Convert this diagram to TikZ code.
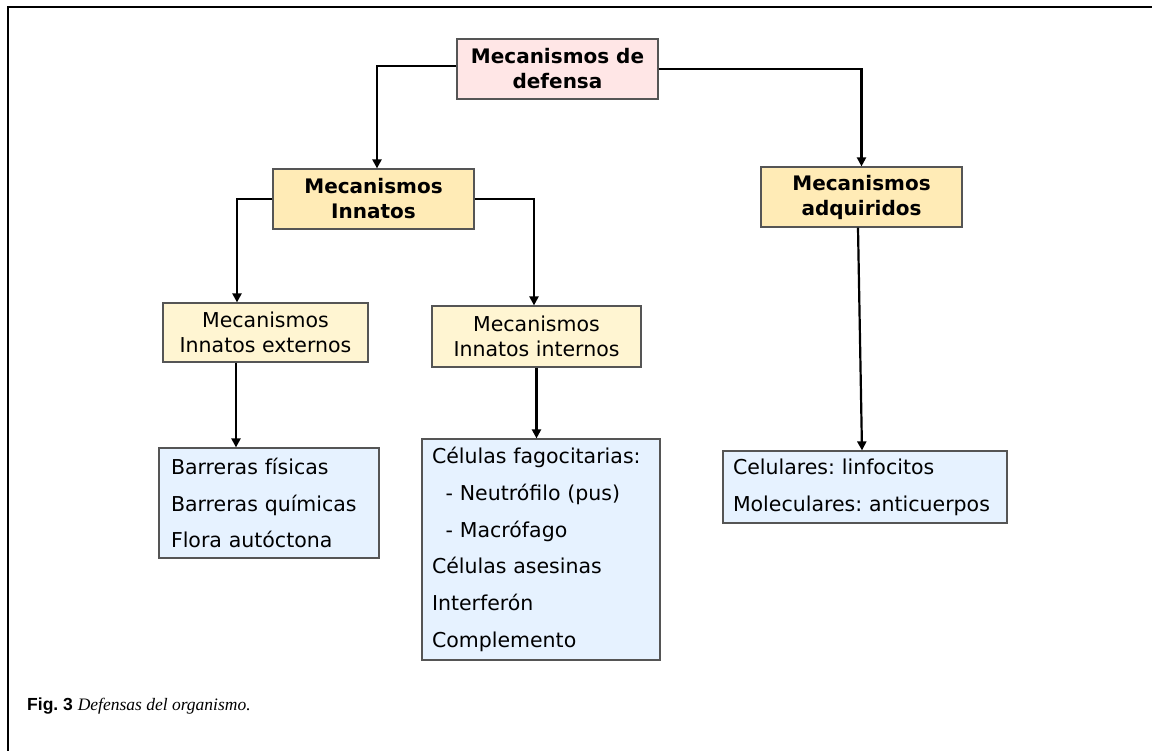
\documentclass[tikz,border=0pt]{standalone}
\usepackage{fontspec}
\setmainfont{DejaVu Sans}
\newfontfamily\capsans{Liberation Sans}
\newfontfamily\capserif{Liberation Serif}
\usetikzlibrary{arrows.meta}
\frenchspacing
\hyphenpenalty=10000
\definecolor{rootfill}{HTML}{FFE6E6}
\definecolor{mainfill}{HTML}{FFEBB6}
\definecolor{subfill}{HTML}{FFF5D2}
\definecolor{listfill}{HTML}{E6F2FF}
\definecolor{boxline}{HTML}{555555}
\tikzset{
  box/.style={draw=boxline, line width=1.2pt, inner sep=0pt, align=center},
  rootbox/.style={box, fill=rootfill, font=\fontsize{20}{25}\selectfont\bfseries},
  mainbox/.style={box, fill=mainfill, font=\fontsize{20}{25}\selectfont\bfseries},
  subbox/.style={box, fill=subfill, font=\fontsize{20.5}{25}\selectfont},
  listbox/.style={box, fill=listfill, align=left, font=\fontsize{20.5}{36.7}\selectfont},
  link/.style={line width=2.2pt, -{Triangle[length=9pt,width=9pt]}},
}
\begin{document}
\begin{tikzpicture}[x=1pt,y=-1pt]
\useasboundingbox (0,0) rectangle (1152,751);
% outer frame: top and left edges only
\draw[line width=2pt] (8,751) -- (8,7) -- (1152,7);

% boxes
\node[rootbox, minimum width=201, minimum height=60] (root) at (557.5,69) {Mecanismos de\\defensa};
\node[mainbox, minimum width=201, minimum height=60] (inn) at (373.5,199) {Mecanismos\\Innatos};
\node[mainbox, minimum width=201, minimum height=60] (adq) at (861.5,197) {Mecanismos\\adquiridos};
\node[subbox, minimum width=205, minimum height=59] (ext) at (265.5,332.5) {Mecanismos\\Innatos externos};
\node[subbox, minimum width=209, minimum height=61] (int) at (536.5,336.5) {Mecanismos\\Innatos internos};
\node[listbox, minimum width=220, minimum height=110, text width=196] (bar) at (269,503)
  {Barreras físicas\\Barreras químicas\\Flora autóctona};
\node[listbox, minimum width=238, minimum height=221, text width=218] (cel) at (541,549.5)
  {Células fagocitarias:\\\ \ - Neutrófilo (pus)\\\ \ - Macrófago\\Células asesinas\\Interferón\\Complemento};
\node[listbox, minimum width=284, minimum height=72, text width=264] (adl) at (865,487)
  {Celulares: linfocitos\\Moleculares: anticuerpos};

% connectors
\draw[link] ([yshift=3]root.west) -| ([xshift=3.5]inn.north);
\draw[link] (root.east) -| (adq.north);
\draw[link] (inn.west) -| ([xshift=-28.5]ext.north);
\draw[link] (inn.east) -| ([xshift=-2.5]int.north);
\draw[link] ([xshift=-29.5]ext.south) -- ([xshift=-29.5]ext.south |- bar.north);
\draw[link] (int.south) -- (int.south |- cel.north);
\draw[link] ([xshift=-3.5]adq.south) -- ([xshift=-3]adl.north);

% caption
\node[anchor=base west, inner sep=0pt] (cap) at (27,710)
  {\capsans\bfseries\fontsize{17.5}{20}\selectfont Fig. 3 \capserif\mdseries\itshape Defensas del organismo.};
\end{tikzpicture}
\end{document}
